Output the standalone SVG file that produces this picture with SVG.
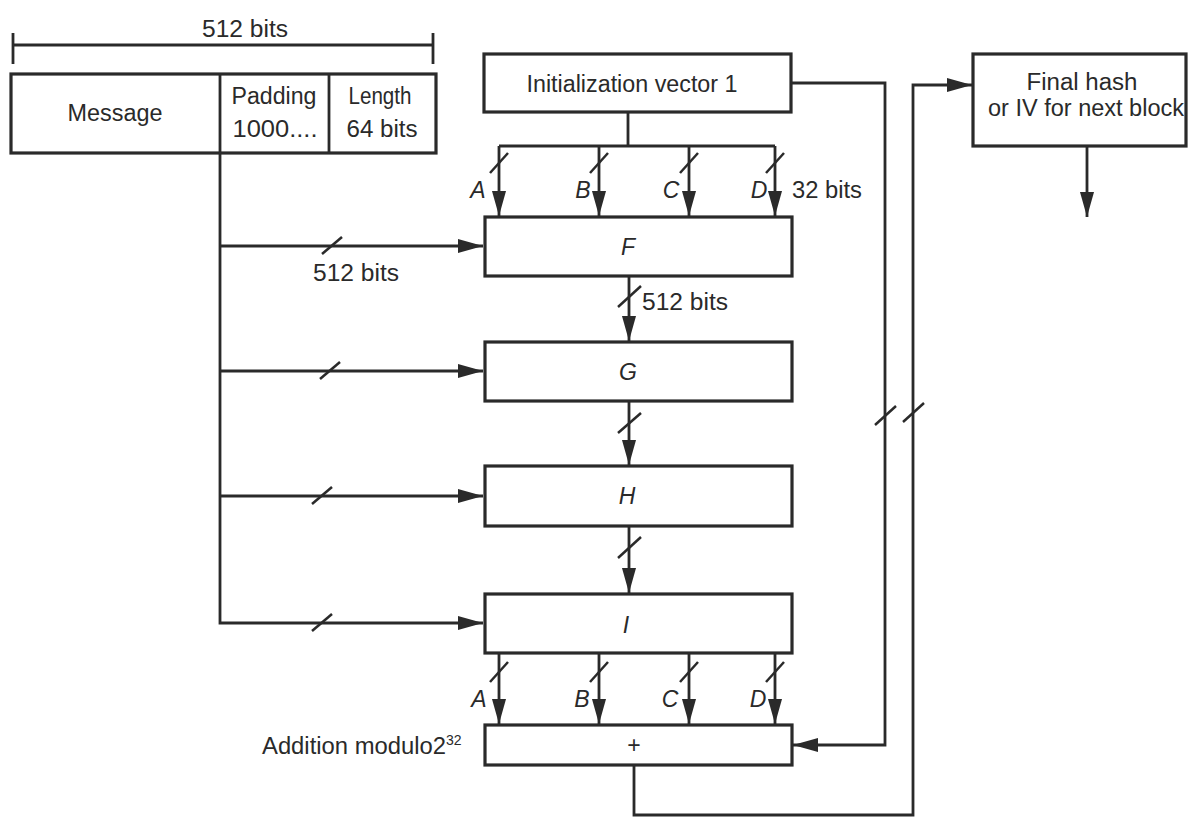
<svg xmlns="http://www.w3.org/2000/svg" width="1191" height="817" viewBox="0 0 1191 817">
<defs>
<style>
.box{fill:#fff;stroke:#2a2a2a;stroke-width:3.2}
.ln{fill:none;stroke:#2a2a2a;stroke-width:2.8}
.sl{fill:none;stroke:#2a2a2a;stroke-width:2.5}
text{font-family:"Liberation Sans","DejaVu Sans",sans-serif;font-size:23px;fill:#2a2a2a}
.c{text-anchor:middle}
.it{font-style:italic}
</style>
<marker id="arr" markerUnits="userSpaceOnUse" markerWidth="25" markerHeight="14" refX="25" refY="7" orient="auto">
<path d="M0,0 L25,7 L0,14 z" fill="#2a2a2a"/>
</marker>
</defs>
<rect width="1191" height="817" fill="#fff"/>

<g id="ruler">
<line class="ln" x1="13" y1="45" x2="433" y2="45"/>
<line class="ln" x1="13" y1="33" x2="13" y2="64"/>
<line class="ln" x1="433" y1="33" x2="433" y2="64"/>
<text class="c" x="245" y="37" textLength="86" lengthAdjust="spacingAndGlyphs">512 bits</text>
</g>

<g id="message-block">
<rect class="box" x="11" y="74" width="425" height="79"/>
<line class="ln" x1="220" y1="74" x2="220" y2="153"/>
<line class="ln" x1="329" y1="74" x2="329" y2="153"/>
<text class="c" x="115" y="121" textLength="95" lengthAdjust="spacingAndGlyphs">Message</text>
<text class="c" x="274" y="104" textLength="85" lengthAdjust="spacingAndGlyphs">Padding</text>
<text class="c" x="275" y="137" textLength="85" lengthAdjust="spacingAndGlyphs">1000....</text>
<text class="c" x="380" y="104" textLength="63" lengthAdjust="spacingAndGlyphs">Length</text>
<text class="c" x="382" y="137" textLength="71" lengthAdjust="spacingAndGlyphs">64 bits</text>
</g>

<g id="iv">
<rect class="box" x="484" y="54" width="307" height="58"/>
<text class="c" x="632" y="92" textLength="211" lengthAdjust="spacingAndGlyphs">Initialization vector 1</text>
</g>

<g id="final">
<rect class="box" x="973" y="54" width="213" height="92"/>
<text class="c" x="1082" y="90" textLength="111" lengthAdjust="spacingAndGlyphs">Final hash</text>
<text class="c" x="1086" y="116" textLength="196" lengthAdjust="spacingAndGlyphs">or IV for next block</text>
</g>

<g id="F">
<rect class="box" x="485" y="217" width="307" height="59"/>
<text class="c it" x="628" y="255">F</text>
</g>
<g id="G">
<rect class="box" x="485" y="342" width="307" height="59"/>
<text class="c it" x="628" y="380">G</text>
</g>
<g id="H">
<rect class="box" x="485" y="466" width="307" height="60"/>
<text class="c it" x="627" y="504">H</text>
</g>
<g id="I">
<rect class="box" x="485" y="594" width="307" height="59"/>
<text class="c it" x="626" y="633">I</text>
</g>
<g id="add">
<rect class="box" x="485" y="725" width="307" height="40"/>
<text class="c" x="634" y="753">+</text>
</g>

<g id="connectors">
<polyline class="ln" points="220,153 220,623 483,623" marker-end="url(#arr)"/>
<line class="ln" x1="220" y1="246" x2="483" y2="246" marker-end="url(#arr)"/>
<line class="ln" x1="220" y1="371" x2="483" y2="371" marker-end="url(#arr)"/>
<line class="ln" x1="220" y1="496" x2="483" y2="496" marker-end="url(#arr)"/>
<line class="sl" x1="322" y1="254" x2="342" y2="237"/>
<line class="sl" x1="320" y1="379" x2="340" y2="362"/>
<line class="sl" x1="312" y1="504" x2="332" y2="487"/>
<line class="sl" x1="312" y1="631" x2="332" y2="614"/>

<line class="ln" x1="628" y1="112" x2="628" y2="146"/>
<line class="ln" x1="499" y1="146" x2="775" y2="146"/>
<line class="ln" x1="499" y1="146" x2="499" y2="216" marker-end="url(#arr)"/>
<line class="ln" x1="599" y1="146" x2="599" y2="216" marker-end="url(#arr)"/>
<line class="ln" x1="689" y1="146" x2="689" y2="216" marker-end="url(#arr)"/>
<line class="ln" x1="775" y1="146" x2="775" y2="216" marker-end="url(#arr)"/>
<line class="sl" x1="490" y1="173" x2="508" y2="153"/>
<line class="sl" x1="590" y1="173" x2="608" y2="153"/>
<line class="sl" x1="680" y1="173" x2="698" y2="153"/>
<line class="sl" x1="766" y1="173" x2="784" y2="153"/>

<line class="ln" x1="629" y1="276" x2="629" y2="341" marker-end="url(#arr)"/>
<line class="ln" x1="629" y1="401" x2="629" y2="465" marker-end="url(#arr)"/>
<line class="ln" x1="629" y1="526" x2="629" y2="593" marker-end="url(#arr)"/>
<line class="sl" x1="618" y1="307" x2="641" y2="286"/>
<line class="sl" x1="618" y1="433" x2="641" y2="413"/>
<line class="sl" x1="618" y1="558" x2="641" y2="537"/>

<line class="ln" x1="499" y1="653" x2="499" y2="724" marker-end="url(#arr)"/>
<line class="ln" x1="599" y1="653" x2="599" y2="724" marker-end="url(#arr)"/>
<line class="ln" x1="689" y1="653" x2="689" y2="724" marker-end="url(#arr)"/>
<line class="ln" x1="775" y1="653" x2="775" y2="724" marker-end="url(#arr)"/>
<line class="sl" x1="490" y1="682" x2="508" y2="662"/>
<line class="sl" x1="590" y1="682" x2="608" y2="662"/>
<line class="sl" x1="680" y1="682" x2="698" y2="662"/>
<line class="sl" x1="766" y1="682" x2="784" y2="662"/>

<polyline class="ln" points="791,83 885,83 885,745 793,745" marker-end="url(#arr)"/>
<polyline class="ln" points="634,765 634,815 913,815 913,85 972,85" marker-end="url(#arr)"/>
<line class="sl" x1="875" y1="425" x2="896" y2="406"/>
<line class="sl" x1="903" y1="422" x2="924" y2="403"/>
<line class="ln" x1="1087" y1="146" x2="1087" y2="217" marker-end="url(#arr)"/>
</g>

<g id="labels">
<text class="c it" x="478" y="198">A</text>
<text class="c it" x="583" y="198">B</text>
<text class="c it" x="671" y="198">C</text>
<text class="c it" x="759" y="198">D</text>
<text x="792" y="198" textLength="70" lengthAdjust="spacingAndGlyphs">32 bits</text>
<text x="313" y="281" textLength="86" lengthAdjust="spacingAndGlyphs">512 bits</text>
<text x="642" y="310" textLength="86" lengthAdjust="spacingAndGlyphs">512 bits</text>
<text class="c it" x="479" y="707">A</text>
<text class="c it" x="582" y="707">B</text>
<text class="c it" x="670" y="707">C</text>
<text class="c it" x="758" y="707">D</text>
<text x="262" y="754"><tspan textLength="184" lengthAdjust="spacingAndGlyphs">Addition modulo2</tspan><tspan dy="-9" font-size="14">32</tspan></text>
</g>
</svg>
